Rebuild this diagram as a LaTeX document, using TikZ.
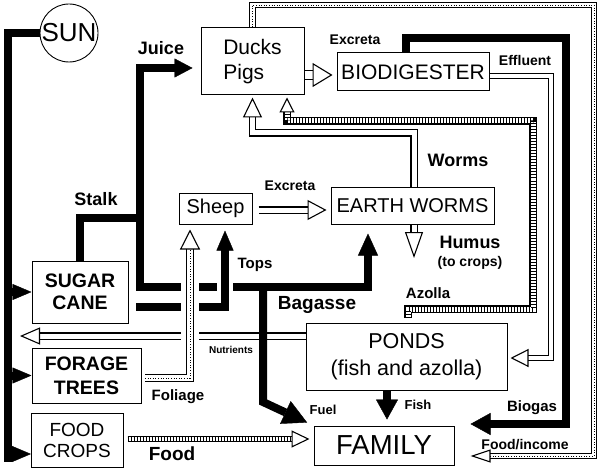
\documentclass[tikz,border=0pt]{standalone}
\usepackage{fontspec}
\setmainfont{Liberation Sans}
\usetikzlibrary{arrows.meta,decorations.markings}

\begin{document}
\begin{tikzpicture}[x=1pt, y=-1pt,
    box/.style = {draw, line width=1pt, inner sep=0pt, align=center},
    lbl/.style = {inner sep=0pt, font=\bfseries\fontsize{#1}{#1}\selectfont},
    feed/.style = {line width=8pt},
    feedtip/.style 2 args = {line width=8pt, -{Triangle[length=#1, width=#2, line width=0.4pt]}},
    headtip/.style 2 args = {postaction={decorate, decoration={markings,
        mark=at position 1 with {\arrow{Triangle[length=#1, width=#2, fill=white, line width=1.1pt]}}}}},
    hollow/.style n args = {3}{double=white, double distance=#1, line width=1.1pt,
        shorten >=#2-4pt, headtip={#2}{#3}},
    hatched/.style n args = {3}{double=white, double distance=#1, line width=1.1pt, shorten >=#2-4pt,
        postaction={draw, line width=#1, dash pattern=on 1pt off 2pt, shorten >=#2-4pt},
        headtip={#2}{#3}},
    dotted double/.style n args = {3}{double=white, double distance=#1, line width=1.1pt, shorten >=#2-4pt,
        postaction={draw, line width=0.8pt, dash pattern=on 1pt off 1.6pt, shorten >=#2-4pt},
        headtip={#2}{#3}}]
    \useasboundingbox (0,0) rectangle (599,473);

    % boxes
    \node[draw, circle, line width=0.9pt, minimum size=58pt, inner sep=0pt, font=\fontsize{26}{26}\selectfont] (sun) at (69,33) {SUN};
    \node[box, minimum width=103pt, minimum height=67pt, align=left, font=\fontsize{21}{25}\selectfont] (ducks) at (252.5,61.5) {Ducks\\Pigs};
    \node[box, minimum width=152pt, minimum height=38pt, font=\fontsize{21}{21}\selectfont] (biodig) at (413,72) {BIODIGESTER};
    \node[box, minimum width=73pt, minimum height=31pt, font=\fontsize{20}{20}\selectfont] (sheep) at (215.5,208.5) {Sheep};
    \node[box, minimum width=163pt, minimum height=37pt, font=\fontsize{20}{20}\selectfont] (earth) at (412.5,205.5) {EARTH WORMS};
    \node[box, minimum width=96pt, minimum height=62pt, font=\bfseries\fontsize{19.5}{22}\selectfont] (sugar) at (80,292) {SUGAR\\CANE};
    \node[box, minimum width=109pt, minimum height=55pt, font=\bfseries\fontsize{19.5}{24}\selectfont] (forage) at (86.5,375.5) {FORAGE\\TREES};
    \node[box, minimum width=92pt, minimum height=54pt, font=\fontsize{19}{21}\selectfont] (crops) at (77,440) {FOOD\\CROPS};
    \node[box, minimum width=201pt, minimum height=67pt, font=\fontsize{21.5}{27}\selectfont] (ponds) at (406.5,356.5) {PONDS\\(fish and azolla)};
    \node[box, minimum width=140pt, minimum height=39pt, font=\fontsize{27.5}{27.5}\selectfont] (family) at (384,445.5) {FAMILY};

    \coordinate (sunfoot) at (8,462);
    \coordinate (cropsin) at (31,454);
    \coordinate (stalkjoin) at (140,218);
    \coordinate (split) at (140,287);
    \coordinate (fuelsplit) at (263,287);
    \coordinate (fuelbend) at (263,402);
    \coordinate (topsstart) at (136,307);
    \coordinate (foliagestart) at (145,378);
    \coordinate (nutend) at (20,336);
    \coordinate (humus) at (414,258);
    \coordinate (wormbend) at (252.5,133);
    \coordinate (azright) at (533,309);
    \coordinate (aztop) at (533,121);
    \coordinate (effbend) at (551,358);
    \coordinate (fitop) at (594,5);
    \coordinate (bgtop) at (566,38);

    % sun
    \draw[feed] (sun.west) -| (sunfoot);
    \draw[feedtip={19pt}{16pt}] (sugar.west -| sunfoot) -- (sugar.west);
    \draw[feedtip={19pt}{16pt}] (forage.west -| sunfoot) -- (forage.west);
    \draw[feedtip={19pt}{16pt}] (cropsin -| sunfoot) -- (cropsin);

    % nutrients back from the ponds
    \draw[hollow={5pt}{20pt}{17pt}] ([yshift=20.5pt]ponds.west) -- (nutend);

    % sugar cane
    \draw[feed] (sugar.north) |- (stalkjoin);
    \draw[feedtip={18pt}{19pt}, line cap=rect] (split) |- ([xshift=-8pt,yshift=-6.5pt]ducks.west);
    \draw[feedtip={22pt}{20pt}] (split) -| ([xshift=-44.5pt,yshift=-9pt]earth.south);
    \draw[feedtip={24pt}{25pt}, shorten >=7pt] (fuelsplit) -- (fuelbend) -- (family.north west);
    \draw[feedtip={20pt}{17pt}, preaction={draw=white, line width=16pt, -}] (topsstart) -| ([xshift=9.5pt,yshift=-6pt]sheep.south);
    \draw[dotted double={5.5pt}{20pt}{20pt}, preaction={draw=white, line width=18pt, -}] (foliagestart) -| ([xshift=-25.5pt,yshift=-5pt]sheep.south);
    \draw[hatched={4pt}{18pt}{17pt}] ([xshift=4pt,yshift=1pt]crops.east) -- ([xshift=-4pt,yshift=6.5pt]family.west);

    % animals and worms
    \draw[hollow={8pt}{20pt}{24pt}] ([yshift=-13.5pt]ducks.east) -- ([xshift=-4pt,yshift=-3pt]biodig.west);
    \draw[hollow={5pt}{19pt}{20pt}] ([xshift=6pt,yshift=-1.5pt]sheep.east) -- ([xshift=-4pt,yshift=-4.5pt]earth.west);
    \draw[hollow={5pt}{20pt}{19pt}] ([xshift=1.5pt]earth.north) |- (wormbend) -- ([yshift=-2pt]ducks.south);
    \draw[hollow={5pt}{26pt}{18pt}] ([xshift=1.5pt]earth.south) -- (humus);
    \draw[hatched={5pt}{15pt}{15pt}] ([xshift=1.5pt,yshift=5pt]ponds.north) |- (azright) -- (aztop) -| ([xshift=34.5pt,yshift=-2pt]ducks.south);

    % biodigester and ponds
    \draw[hollow={3.4pt}{18pt}{18pt}] ([yshift=-4pt]biodig.east) -| (effbend) -- ([xshift=3pt,yshift=-1.5pt]ponds.east);
    \draw[feedtip={20pt}{22pt}] ([xshift=-7pt]biodig.north) |- (bgtop) |- ([xshift=16pt,yshift=21.5pt]family.east);
    \draw[dotted double={4.5pt}{20pt}{13pt}] (ducks.north) |- (fitop) |- ([xshift=16pt,yshift=-10.5pt]family.east);
    \draw[feedtip={20pt}{22pt}] ([xshift=-19.5pt]ponds.south) -- ([xshift=3pt,yshift=6pt]family.north);

    % labels
    \node[lbl=18] (ljuice) at (161,48) {Juice};
    \node[lbl=14] (lexcreta) at (355,40) {Excreta};
    \node[lbl=14] (leffluent) at (525,60) {Effluent};
    \node[lbl=18] (lworms) at (458,160) {Worms};
    \node[lbl=18] (lstalk) at (96,199) {Stalk};
    \node[lbl=14] (lexcreta2) at (290,186) {Excreta};
    \node[lbl=18] (lhumus) at (470,242) {Humus};
    \node[lbl=14] (lcrops) at (470,263) {(to crops)};
    \node[lbl=15] (lazolla) at (428,293) {Azolla};
    \node[lbl=15] (ltops) at (255,265) {Tops};
    \node[lbl=19] (lbagasse) at (317,305) {Bagasse};
    \node[lbl=10] (lnutrients) at (231,350) {Nutrients};
    \node[lbl=15] (lfoliage) at (178,397) {Foliage};
    \node[lbl=19] (lfood) at (172,454) {Food};
    \node[lbl=13] (lfuel) at (323,410) {Fuel};
    \node[lbl=13] (lfish) at (418,405) {Fish};
    \node[lbl=15] (lbiogas) at (532,408) {Biogas};
    \node[lbl=14] (lincome) at (525,445) {Food/income};
\end{tikzpicture}
\end{document}
